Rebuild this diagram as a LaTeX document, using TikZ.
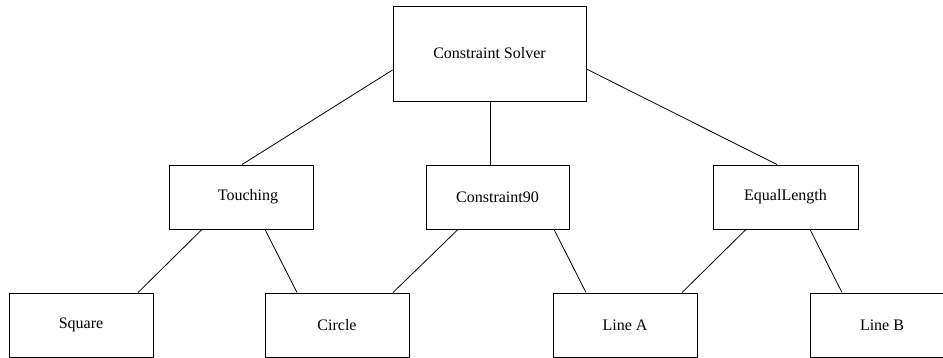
\documentclass[tikz,border=0pt]{standalone}
\usepackage{fontspec}
\setmainfont{Liberation Serif}
\begin{document}
\begin{tikzpicture}[x=1pt,y=-1pt,
  box/.style={draw, line width=0.9pt, rectangle, inner sep=0pt,
    minimum width=144pt, minimum height=64pt,
    font=\fontsize{16}{19}\selectfont},
  link/.style={draw, line width=0.8pt}]
\useasboundingbox (0,0) rectangle (943,358);

% solver at the top
\node[box, minimum width=193pt, minimum height=95pt] (cs) at (489.5,53.5) {\raisebox{-3pt}{Constraint Solver}};

% constraints
\node[box] (touch) at (241,197) {\hspace{14pt}Touching};
\node[box, minimum width=143pt] (c90) at (497.5,197) {Constraint90\hspace{13pt}};
\node[box, minimum width=145pt] (eq) at (785.5,197) {EqualLength};

% geometric objects
\node[box] (square) at (81,325) {Square};
\node[box] (circle) at (337,325) {Circle};
\node[box] (linea) at (625,325) {Line A};
\node[box] (lineb) at (882,325) {Line B};

% solver to constraints
\draw[link] ([yshift=-16.5pt]cs.west) -- ([xshift=1pt]touch.north);
\draw[link] ([xshift=0.5pt]cs.south) -- ([xshift=-7.5pt]c90.north);
\draw[link] ([yshift=-15.5pt]cs.east) -- ([xshift=-8.5pt]eq.north);

% constraints to objects
\draw[link] ([xshift=-39pt]touch.south) -- ([xshift=57pt]square.north);
\draw[link] ([xshift=24pt]touch.south) -- ([xshift=-40pt]circle.north);
\draw[link] ([xshift=-39.5pt]c90.south) -- ([xshift=56pt]circle.north);
\draw[link] ([xshift=56.5pt]c90.south) -- ([xshift=-39pt]linea.north);
\draw[link] ([xshift=-39.5pt]eq.south) -- ([xshift=57pt]linea.north);
\draw[link] ([xshift=24.5pt]eq.south) -- ([xshift=-40pt]lineb.north);
\end{tikzpicture}
\end{document}
